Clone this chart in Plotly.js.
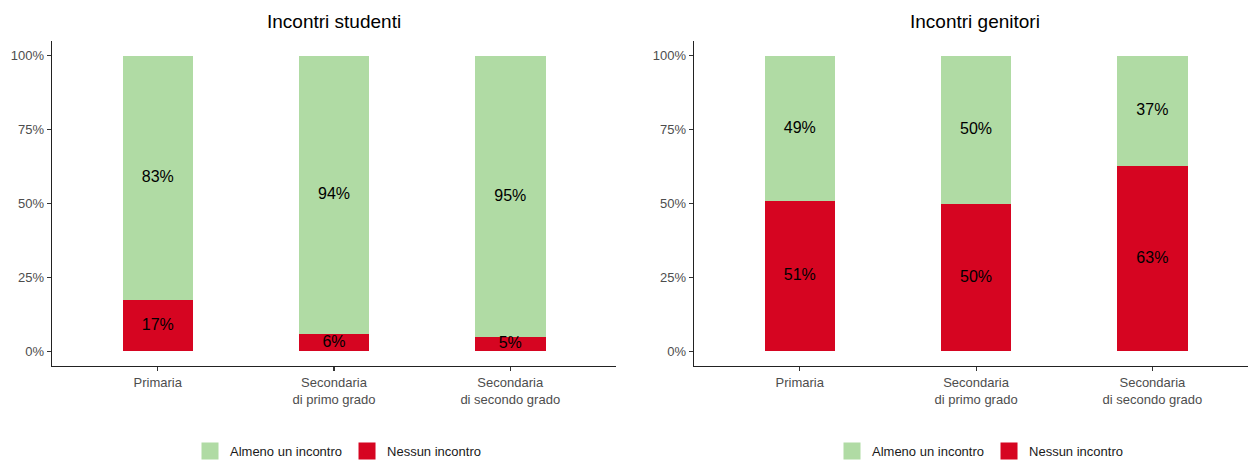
<!DOCTYPE html>
<html>
<head>
<meta charset="utf-8">
<script src="https://cdn.plot.ly/plotly-3.0.1.min.js"></script>
<style>html,body{margin:0;padding:0;background:#fff}#chart{width:1248px;height:466px}</style>
</head>
<body>
<div id="chart"></div>
<script>
// ---- data ----
const categories = ["Primaria", "Secondaria<br>di primo grado", "Secondaria<br>di secondo grado"];
const seriesNames = ["Almeno un incontro", "Nessun incontro"];
const studentiAlmeno = [0.826, 0.943, 0.953];
const studentiNessun = [0.174, 0.057, 0.047];
const genitoriAlmeno = [0.493, 0.503, 0.374];
const genitoriNessun = [0.507, 0.497, 0.626];
const panelTitles = ["Incontri studenti", "Incontri genitori"];
const yTickVals = [0, 0.25, 0.5, 0.75, 1];
const yTickText = ["0%", "25%", "50%", "75%", "100%"];

// ---- styles ----
const GREEN = "#B0DBA4";
const RED = "#D60521";
const FONT = "Liberation Sans, Arial, sans-serif";
const W = 1248, H = 466;

function pct(v) { return Math.round(v * 100) + "%"; }

function panel(almeno, nessun, xa, ya, legendId) {
  const bottom = {
    type: "bar", x: categories, y: nessun, name: seriesNames[1],
    marker: {color: RED}, width: 0.4, xaxis: xa, yaxis: ya,
    showlegend: false, hoverinfo: "skip"
  };
  const top = {
    type: "bar", x: categories, y: almeno, name: seriesNames[0],
    marker: {color: GREEN}, width: 0.4, xaxis: xa, yaxis: ya,
    showlegend: false, hoverinfo: "skip"
  };
  // legend keys (no bars drawn: empty values), bigger swatches via outline
  const keyBottom = {
    type: "bar", x: [categories[0]], y: [null], name: seriesNames[1],
    marker: {color: RED, line: {color: RED, width: 5}}, width: 0.4,
    xaxis: xa, yaxis: ya, legend: legendId, hoverinfo: "skip"
  };
  const keyTop = {
    type: "bar", x: [categories[0]], y: [null], name: seriesNames[0],
    marker: {color: GREEN, line: {color: GREEN, width: 5}}, width: 0.4,
    xaxis: xa, yaxis: ya, legend: legendId, hoverinfo: "skip"
  };
  const labelsBottom = {
    type: "scatter", mode: "text", x: categories,
    y: nessun.map(v => v / 2), text: nessun.map(pct),
    textfont: {family: FONT, size: 16, color: "#000"},
    textposition: "middle center", showlegend: false,
    xaxis: xa, yaxis: ya, hoverinfo: "skip", cliponaxis: false
  };
  const labelsTop = {
    type: "scatter", mode: "text", x: categories,
    y: almeno.map((v, i) => nessun[i] + v / 2), text: almeno.map(pct),
    textfont: {family: FONT, size: 16, color: "#000"},
    textposition: "middle center", showlegend: false,
    xaxis: xa, yaxis: ya, hoverinfo: "skip", cliponaxis: false
  };
  return [bottom, top, keyBottom, keyTop, labelsBottom, labelsTop];
}

const data = [
  ...panel(studentiAlmeno, studentiNessun, "x", "y", "legend"),
  ...panel(genitoriAlmeno, genitoriNessun, "x2", "y2", "legend2")
];

const yDomain = [(H - 366) / H, (H - 41) / H];
function xAxis(domain, range) {
  return {
    domain: domain, range: range, type: "category",
    showline: true, linecolor: "#222", linewidth: 1.3,
    ticks: "outside", ticklen: 4, tickcolor: "#333", tickwidth: 1.1,
    tickfont: {family: FONT, size: 13, color: "#4D4D4D"},
    showgrid: false, zeroline: false, fixedrange: true
  };
}
function yAxis(anchor) {
  return {
    domain: yDomain, range: [-0.05, 1.05], anchor: anchor,
    tickvals: yTickVals, ticktext: yTickText,
    showline: true, linecolor: "#222", linewidth: 1.3,
    ticks: "outside", ticklen: 4, tickcolor: "#333", tickwidth: 1.1,
    tickfont: {family: FONT, size: 13, color: "#4D4D4D"},
    showgrid: false, zeroline: false, fixedrange: true
  };
}

const legendBase = {
  orientation: "h", xanchor: "center", yanchor: "bottom",
  y: 0, traceorder: "reversed",
  font: {family: FONT, size: 13, color: "#1a1a1a"},
  bgcolor: "rgba(0,0,0,0)"
};

const layout = {
  width: W, height: H,
  margin: {l: 0, r: 0, t: 0, b: 0},
  paper_bgcolor: "#fff", plot_bgcolor: "#fff",
  barmode: "stack",
  font: {family: FONT},
  xaxis: Object.assign(xAxis([52 / W, 616 / W], [-0.6, 2.6]), {anchor: "y"}),
  yaxis: yAxis("x"),
  xaxis2: Object.assign(xAxis([694 / W, 1], [-0.6, -0.6 + (W - 694) / 176.3]), {anchor: "y2"}),
  yaxis2: yAxis("x2"),
  legend: Object.assign({}, legendBase, {x: 338 / W}),
  legend2: Object.assign({}, legendBase, {x: 980 / W}),
  annotations: [
    {text: panelTitles[0], x: 334 / W, y: (H - 21) / H, xref: "paper", yref: "paper",
     showarrow: false, xanchor: "center", yanchor: "middle",
     font: {family: FONT, size: 19, color: "#000"}},
    {text: panelTitles[1], x: 975 / W, y: (H - 21) / H, xref: "paper", yref: "paper",
     showarrow: false, xanchor: "center", yanchor: "middle",
     font: {family: FONT, size: 19, color: "#000"}}
  ]
};

Plotly.newPlot("chart", data, layout, {displayModeBar: false, staticPlot: true});
</script>
</body>
</html>
